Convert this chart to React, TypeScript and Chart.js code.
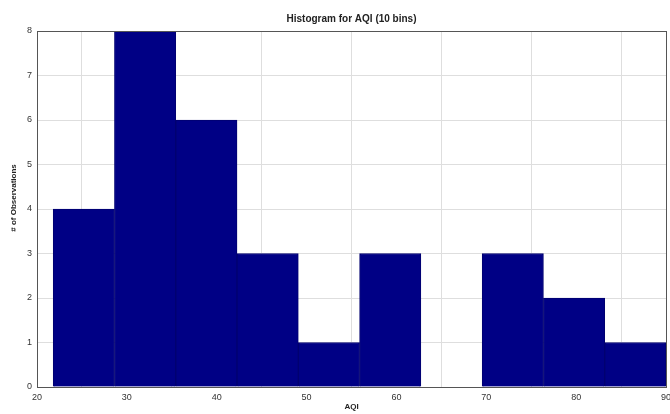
import React, { useEffect, useRef } from "react";
import { Chart, registerables } from "chart.js";

Chart.register(...registerables);

const binEdges = [21.8, 28.62, 35.44, 42.26, 49.08, 55.9, 62.72, 69.54, 76.36, 83.18, 90];
const counts = [4, 8, 6, 3, 1, 3, 0, 3, 2, 1];
const xTicks = [20, 30, 40, 50, 60, 70, 80, 90];
const yTicks = [0, 1, 2, 3, 4, 5, 6, 7, 8];
const titleText = "Histogram for AQI (10 bins)";
const xTitle = "AQI";
const yTitle = "# of Observations";

const FONT = "'Liberation Sans', Arial, sans-serif";

export default function App() {
  const ref = useRef<HTMLCanvasElement | null>(null);

  useEffect(() => {
    document.body.style.margin = "0";
    const canvas = ref.current!;
    const points = counts.map((c, i) => ({ x: (binEdges[i] + binEdges[i + 1]) / 2, y: c }));

    const textPlugin = {
      id: "matlabText",
      afterDraw(chart: any) {
        const ctx = chart.ctx;
        const a = chart.chartArea;
        ctx.save();
        ctx.strokeStyle = "#555";
        ctx.lineWidth = 1;
        ctx.strokeRect(Math.round(a.left) + 0.5, Math.round(a.top) + 0.5, Math.round(a.right - a.left), Math.round(a.bottom - a.top));
        ctx.fillStyle = "#222";
        ctx.textAlign = "center";
        ctx.textBaseline = "middle";
        ctx.font = `bold 10px ${FONT}`;
        ctx.fillText(titleText, (a.left + a.right) / 2, 19);
        ctx.font = `bold 8px ${FONT}`;
        ctx.fillText(xTitle, (a.left + a.right) / 2, 407);
        ctx.translate(14, 198);
        ctx.rotate(-Math.PI / 2);
        ctx.fillText(yTitle, 0, 0);
        ctx.restore();
      },
    };

    const chart = new Chart(canvas, {
      type: "bar",
      data: {
        datasets: [
          {
            data: points,
            backgroundColor: "#000085",
            borderColor: "#000070",
            borderWidth: 1,
            barPercentage: 1,
            categoryPercentage: 1,
          },
        ],
      },
      options: {
        responsive: false,
        animation: false,
        layout: { padding: { top: 31, right: 4, left: 0, bottom: 0 } },
        plugins: {
          legend: { display: false },
          title: { display: false },
          tooltip: { enabled: false },
        },
        scales: {
          x: {
            type: "linear",
            min: 20,
            max: 90,
            afterBuildTicks(scale: any) {
              scale.ticks = xTicks.map((v) => ({ value: v }));
            },
            afterFit(scale: any) {
              scale.height = 27;
              scale.paddingRight = 0;
              scale.paddingLeft = 0;
            },
            offset: false,
            grid: { color: "#dedede", drawTicks: false, lineWidth: 1 },
            border: { display: false },
            ticks: {
              padding: 5,
              color: "#333",
              font: { family: FONT, size: 9 },
              maxRotation: 0,
              autoSkip: false,
            },
          },
          y: {
            min: 0,
            max: 8,
            afterBuildTicks(scale: any) {
              scale.ticks = yTicks.map((v) => ({ value: v }));
            },
            afterFit(scale: any) {
              scale.width = 37;
            },
            grid: { color: "#dedede", drawTicks: false, lineWidth: 1 },
            border: { display: false },
            ticks: {
              padding: 5,
              color: "#333",
              font: { family: FONT, size: 9 },
            },
          },
        },
      },
      plugins: [textPlugin],
    } as any);

    return () => chart.destroy();
  }, []);

  return <canvas ref={ref} width={670} height={414} style={{ display: "block" }} />;
}
